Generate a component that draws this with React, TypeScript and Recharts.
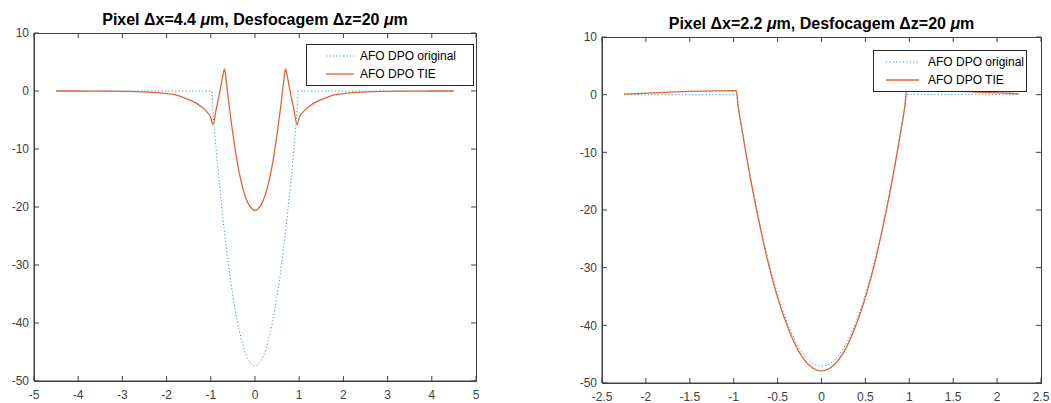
import React from 'react';
import { LineChart, Line, XAxis, YAxis, Legend } from 'recharts';

// ---- painel esquerdo: pixel 4.4 um ----
const origXA = [-4.5, -0.98, -0.95, -0.9, -0.85, -0.8, -0.7, -0.6, -0.5, -0.4, -0.3, -0.2, -0.1, 0, 0.1, 0.2, 0.3, 0.4, 0.5, 0.6, 0.7, 0.8, 0.85, 0.9, 0.95, 0.98, 4.5];
const origYA = [0, 0, -3.7, -8.2, -12.5, -16.4, -23.7, -30.0, -35.3, -39.7, -43.0, -45.5, -46.9, -47.4, -46.9, -45.5, -43.0, -39.7, -35.3, -30.0, -23.7, -16.4, -12.5, -8.2, -3.7, 0, 0];

const tieXA = [-4.5, -4.0, -3.5, -3.0, -2.5, -2.0, -1.75, -1.5, -1.35, -1.2, -1.1, -1.0, -0.95, -0.88, -0.8, -0.72, -0.69, -0.64, -0.58, -0.52, -0.45, -0.38, -0.3, -0.22, -0.14, -0.07, 0,
  0.07, 0.14, 0.22, 0.3, 0.38, 0.45, 0.52, 0.58, 0.64, 0.69, 0.72, 0.8, 0.88, 0.95, 1.0, 1.1, 1.2, 1.35, 1.5, 1.75, 2.0, 2.5, 3.0, 3.5, 4.0, 4.5];
const tieYA = [0, 0, -0.02, -0.05, -0.15, -0.45, -0.75, -1.5, -2.0, -2.8, -3.5, -4.6, -5.8, -3.2, -0.3, 2.9, 3.8, 1.0, -2.8, -6.3, -10.0, -13.2, -16.0, -18.2, -19.6, -20.3, -20.6,
  -20.3, -19.6, -18.2, -16.0, -13.2, -10.0, -6.3, -2.8, 1.0, 3.8, 2.9, -0.3, -3.2, -5.8, -4.6, -3.5, -2.8, -2.0, -1.5, -0.75, -0.45, -0.15, -0.05, -0.02, 0, 0];

const xTicksA = [-5, -4, -3, -2, -1, 0, 1, 2, 3, 4, 5];

// ---- painel direito: pixel 2.2 um ----
const origXB = [-2.25, -0.97, -0.95, -0.9, -0.8, -0.7, -0.6, -0.5, -0.4, -0.3, -0.2, -0.1, 0, 0.1, 0.2, 0.3, 0.4, 0.5, 0.6, 0.7, 0.8, 0.9, 0.95, 0.97, 2.25];
const origYB = [0, 0, -1.9, -6.5, -15.0, -22.6, -29.1, -34.6, -39.1, -42.6, -45.1, -46.6, -47.1, -46.6, -45.1, -42.6, -39.1, -34.6, -29.1, -22.6, -15.0, -6.5, -1.9, 0.05, 0.05];

const tieXB = [-2.25, -0.97, -0.95, -0.9, -0.8, -0.7, -0.6, -0.5, -0.4, -0.3, -0.2, -0.1, 0, 0.1, 0.2, 0.3, 0.4, 0.5, 0.6, 0.7, 0.8, 0.9, 0.95, 0.97, 2.25];
const tieYB = [0.1, 0.7, -1.9, -6.6, -15.3, -22.9, -29.6, -35.2, -39.7, -43.3, -45.9, -47.4, -47.9, -47.4, -45.9, -43.3, -39.7, -35.2, -29.6, -22.9, -15.3, -6.6, -1.9, 0.75, 0.15];

const xTicksB = [-2.5, -2, -1.5, -1, -0.5, 0, 0.5, 1, 1.5, 2, 2.5];

const yTicks = [-50, -40, -30, -20, -10, 0, 10];

const seriesOrder = ['AFO DPO original', 'AFO DPO TIE'];

const FONT = '"Liberation Sans", Arial, Helvetica, sans-serif';
const AXIS = '#404040';
const BLUE = '#3a93d3';
const ORANGE = '#DF6536';
const TICK_LEN = 5;
const HEIGHT = 403;

const toPoints = (xs: number[], ys: number[]) => xs.map((x, i) => ({ x, y: ys[i] }));

// x tick: label below + inward mark on the top edge of the box
const XTick = ({ x, y, payload, boxTop }: any) => (
  <g>
    <line x1={x} x2={x} y1={boxTop} y2={boxTop + TICK_LEN} stroke={AXIS} strokeWidth={1} />
    <text x={x} y={y} dy="0.8em" textAnchor="middle" fill={AXIS} fontSize={12} fontFamily={FONT}>
      {payload.value}
    </text>
  </g>
);

// y tick: label on the left + inward mark on the right edge of the box
const YTick = ({ x, y, payload, boxRight }: any) => (
  <g>
    <line x1={boxRight - TICK_LEN} x2={boxRight} y1={y} y2={y} stroke={AXIS} strokeWidth={1} />
    <text x={x} y={y} dy="0.36em" textAnchor="end" fill={AXIS} fontSize={12} fontFamily={FONT}>
      {payload.value}
    </text>
  </g>
);

const LegendBox = ({ payload, pad, sample, gap }: any) => {
  const items = (payload || [])
    .filter((p: any) => seriesOrder.includes(p.value))
    .sort((a: any, b: any) => seriesOrder.indexOf(a.value) - seriesOrder.indexOf(b.value));
  return (
    <div style={{ border: '1px solid #262626', background: '#fff', padding: '2px 0 2px ' + pad + 'px', fontFamily: FONT, fontSize: 12, color: '#000' }}>
      {items.map((p: any) => (
        <div key={p.value} style={{ display: 'flex', alignItems: 'center', height: 18 }}>
          <svg width={sample} height={6} style={{ marginRight: gap }}>
            <line x1={0} y1={3} x2={sample} y2={3} stroke={p.color} strokeWidth={p.payload?.strokeWidth || 1}
              strokeDasharray={p.payload?.strokeDasharray} />
          </svg>
          <span>{p.value}</span>
        </div>
      ))}
    </div>
  );
};

interface PanelProps {
  left: number;
  width: number;
  top: number;
  axisWidth: number;
  rightMargin: number;
  xAxisHeight: number;
  domain: [number, number];
  xTicks: number[];
  orig: { x: number; y: number }[];
  tie: { x: number; y: number }[];
  title: string;
  titleTop: number;
  legend: { top: number; left: number; width: number; pad: number; sample: number; gap: number };
}

function Panel(p: PanelProps) {
  const boxRight = p.width - p.rightMargin;
  const boxBottom = HEIGHT - p.xAxisHeight;
  return (
    <div style={{ position: 'absolute', left: p.left, top: 0, width: p.width, height: HEIGHT }}>
      {/* axes box, drawn underneath the chart */}
      <div style={{ position: 'absolute', boxSizing: 'border-box',
        left: p.axisWidth, top: p.top, width: boxRight - p.axisWidth + 1, height: boxBottom - p.top + 1,
        border: '1px solid ' + AXIS }} />
      <div style={{ position: 'absolute', top: p.titleTop, left: p.axisWidth, width: boxRight - p.axisWidth,
        textAlign: 'center', fontFamily: FONT, fontWeight: 'bold', fontSize: 16, color: '#000', whiteSpace: 'nowrap' }}>
        Pixel Δx={p.title} <i>μ</i>m, Desfocagem Δz=20 <i>μ</i>m
      </div>
      <div style={{ position: 'absolute', left: 0, top: 0 }}>
        <LineChart width={p.width} height={HEIGHT} margin={{ top: p.top, right: p.rightMargin, left: 0, bottom: 0 }}>
          <XAxis dataKey="x" type="number" domain={p.domain} ticks={p.xTicks} allowDataOverflow
            height={p.xAxisHeight} tickSize={-TICK_LEN} tickMargin={13} stroke={AXIS} interval={0}
            tick={(props: any) => <XTick {...props} boxTop={p.top} />} />
          <YAxis type="number" domain={[-50, 10]} ticks={yTicks} allowDataOverflow width={p.axisWidth}
            tickSize={-TICK_LEN} tickMargin={10} stroke={AXIS} interval={0}
            tick={(props: any) => <YTick {...props} boxRight={boxRight} />} />
          <Legend layout="vertical" align="center" verticalAlign="middle"
            wrapperStyle={{ top: p.legend.top, left: p.legend.left, width: p.legend.width }}
            content={(props: any) => <LegendBox {...props} pad={p.legend.pad} sample={p.legend.sample} gap={p.legend.gap} />} />
          <Line data={p.orig} dataKey="y" name="AFO DPO original" type="monotone" stroke={BLUE} strokeWidth={1}
            strokeDasharray="1.2 2.2" dot={false} isAnimationActive={false} />
          <Line data={p.tie} dataKey="y" name="AFO DPO TIE" type="monotone" stroke={ORANGE} strokeWidth={1.3}
            dot={false} isAnimationActive={false} />
        </LineChart>
      </div>
    </div>
  );
}

export default function App() {
  return (
    <div style={{ position: 'absolute', left: 0, top: 0, width: 1051, height: HEIGHT, background: '#fff' }}>
      <Panel left={0} width={520} top={33} axisWidth={34} rightMargin={44} xAxisHeight={22}
        domain={[-5, 5]} xTicks={xTicksA} orig={toPoints(origXA, origYA)} tie={toPoints(tieXA, tieYA)}
        title="4.4" titleTop={11}
        legend={{ top: 44, left: 306, width: 168, pad: 19, sample: 28, gap: 6 }} />
      <Panel left={530} width={521} top={37} axisWidth={72} rightMargin={10} xAxisHeight={20}
        domain={[-2.5, 2.5]} xTicks={xTicksB} orig={toPoints(origXB, origYB)} tie={toPoints(tieXB, tieYB)}
        title="2.2" titleTop={15}
        legend={{ top: 50, left: 343, width: 154, pad: 12, sample: 33, gap: 9 }} />
    </div>
  );
}
